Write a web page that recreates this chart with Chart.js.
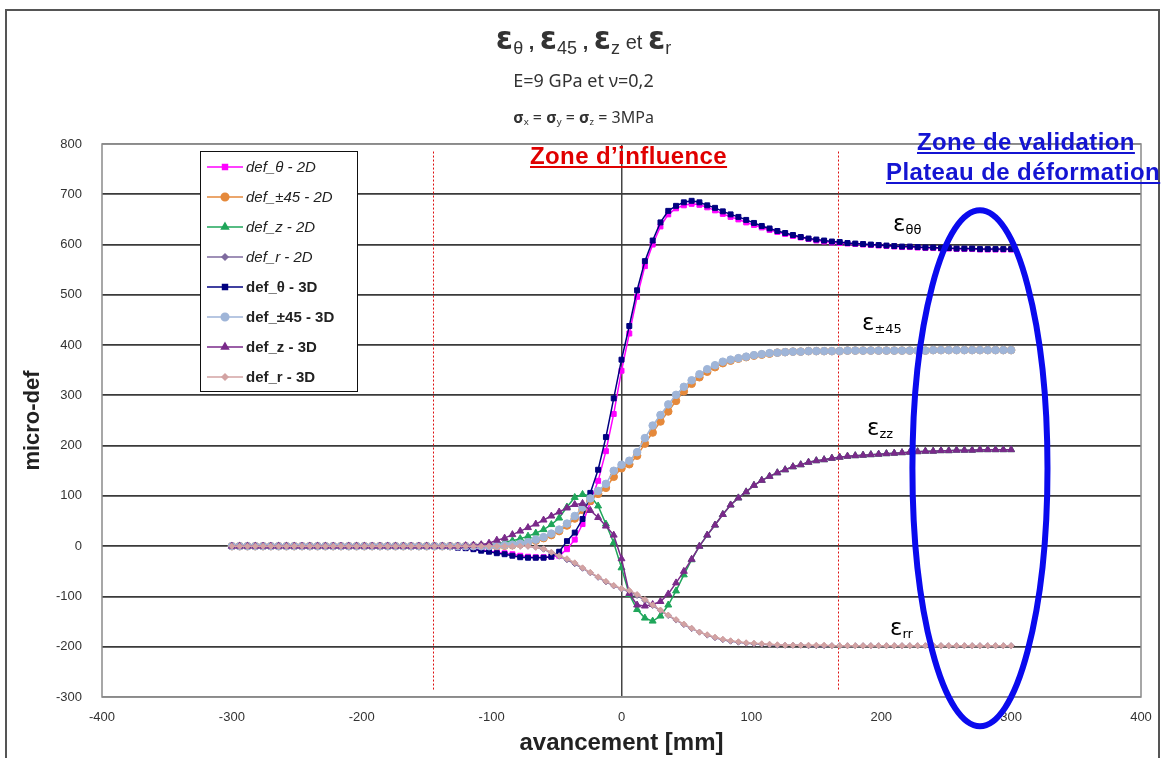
<!DOCTYPE html>
<html>
<head>
<meta charset="utf-8">
<script src="https://cdn.jsdelivr.net/npm/chart.js@4.4.1/dist/chart.umd.min.js"></script>
<style>
  html, body { margin: 0; padding: 0; background: #fff; }
  #wrap { position: relative; width: 1167px; height: 758px; overflow: hidden; }
  #cadre { position: absolute; left: 5px; top: 9px; width: 1155px; height: 770px; border: 2px solid #555; box-sizing: border-box; }
  canvas { position: absolute; left: 0; top: 0; }
  .txt { position: absolute; white-space: nowrap; font-family: "Liberation Sans", Arial, sans-serif; }
  .titre { left: 0; width: 1167px; text-align: center; color: #333; }
  .eps { font-family: "DejaVu Sans", sans-serif; }
  sub { font-size: 0.6em; vertical-align: -0.25em; }
  .zone { font-weight: bold; text-decoration: underline; font-size: 24px; letter-spacing: 0.4px; }
</style>
</head>
<body>
<div id="wrap">
  <canvas id="grafico" width="1167" height="758"></canvas>
  <div id="cadre"></div>

  <div class="txt titre" style="top:19px;font-size:20px;line-height:38px;">
    <span class="eps" style="font-size:31px;font-weight:bold">ε</span><sub style="font-size:18px">θ</sub> <b>,</b>
    <span class="eps" style="font-size:31px;font-weight:bold">ε</span><sub style="font-size:18px">45</sub> <b>,</b>
    <span class="eps" style="font-size:31px;font-weight:bold">ε</span><sub style="font-size:18px">z</sub> et
    <span class="eps" style="font-size:31px;font-weight:bold">ε</span><sub style="font-size:18px">r</sub>
  </div>
  <div class="txt titre" style="top:67px;font-size:18px;line-height:26px;font-family:'Noto Sans',sans-serif;">E=9 GPa et ν=0,2</div>
  <div class="txt titre" style="top:106px;font-size:16px;line-height:22px;font-family:'Noto Sans',sans-serif;">
    <b>σ</b><sub>x</sub> = <b>σ</b><sub>y</sub> = <b>σ</b><sub>z</sub> = 3MPa
  </div>

  <div class="txt zone" style="left:530px;top:142px;color:#e00000;">Zone d’influence</div>
  <div class="txt zone" style="left:917px;top:128px;color:#1414d2;">Zone de validation</div>
  <div class="txt zone" style="left:886px;top:158px;color:#1414d2;">Plateau de déformation</div>

  <div class="txt eps" style="left:893px;top:210px;font-size:23px;">ε<sub style="font-size:13px">θθ</sub></div>
  <div class="txt eps" style="left:862px;top:309px;font-size:23px;">ε<sub style="font-size:13px">±45</sub></div>
  <div class="txt eps" style="left:867px;top:414px;font-size:23px;">ε<sub style="font-size:13px">zz</sub></div>
  <div class="txt eps" style="left:890px;top:614px;font-size:23px;">ε<sub style="font-size:13px">rr</sub></div>
</div>

<script>
// avancement [mm]
const avancement = [
  -300, -294, -288, -282, -276, -270, -264, -258, -252, -246,
  -240, -234, -228, -222, -216, -210, -204, -198, -192, -186,
  -180, -174, -168, -162, -156, -150, -144, -138, -132, -126,
  -120, -114, -108, -102, -96, -90, -84, -78, -72, -66,
  -60, -54, -48, -42, -36, -30, -24, -18, -12, -6,
  0, 6, 12, 18, 24, 30, 36, 42, 48, 54,
  60, 66, 72, 78, 84, 90, 96, 102, 108, 114,
  120, 126, 132, 138, 144, 150, 156, 162, 168, 174,
  180, 186, 192, 198, 204, 210, 216, 222, 228, 234,
  240, 246, 252, 258, 264, 270, 276, 282, 288, 294,
  300
];

const defTheta2D = [
  0, 0, 0, 0, 0, 0, 0, 0, 0, 0,
  0, 0, 0, 0, 0, 0, 0, 0, 0, 0,
  0, 0, 0, 0, 0, 0, 0, 0, -1, -2,
  -3, -5, -7, -10, -12, -14, -16, -19, -21, -22,
  -22, -21, -19, -6, 13, 44, 88, 130, 189, 263,
  349, 423, 496, 557, 600, 636, 660, 672, 678, 681,
  679, 674, 668, 661, 655, 650, 644, 639, 634, 629,
  625, 621, 617, 614, 611, 608, 606, 604, 603, 602,
  601, 600, 599, 598, 597, 596, 595, 595, 594, 593,
  593, 592, 592, 591, 591, 591, 590, 590, 590, 590,
  590
];

const def45_2D = [
  0, 0, 0, 0, 0, 0, 0, 0, 0, 0,
  0, 0, 0, 0, 0, 0, 0, 0, 0, 0,
  0, 0, 0, 0, 0, 0, 0, 0, 0, 0,
  0, 0, 0, 0, 0, 1, 2, 4, 7, 11,
  16, 22, 30, 41, 55, 72, 90, 104, 116, 138,
  155, 163, 180, 204, 226, 248, 268, 289, 308, 323,
  336, 347, 356, 364, 369, 373, 376, 379, 381, 383,
  385, 386, 387, 387, 388, 388, 388, 388, 388, 389,
  389, 389, 389, 389, 389, 389, 389, 389, 389, 389,
  390, 390, 390, 390, 390, 390, 390, 390, 390, 390,
  390
];

const defZ2D = [
  0, 0, 0, 0, 0, 0, 0, 0, 0, 0,
  0, 0, 0, 0, 0, 0, 0, 0, 0, 0,
  0, 0, 0, 0, 0, 0, 0, 0, 0, 0,
  0, 1, 2, 3, 5, 8, 11, 15, 20, 26,
  33, 43, 56, 78, 97, 103, 100, 80, 44, 7,
  -43, -96, -126, -143, -149, -139, -117, -89, -57, -27,
  0, 22, 42, 63, 82, 96, 108, 121, 131, 139,
  146, 152, 158, 162, 167, 170, 172, 175, 177, 179,
  180, 181, 182, 183, 184, 185, 186, 187, 188, 189,
  189, 190, 190, 191, 191, 191, 192, 192, 192, 192,
  192
];

const defR2D = [
  0, 0, 0, 0, 0, 0, 0, 0, 0, 0,
  0, 0, 0, 0, 0, 0, 0, 0, 0, 0,
  0, 0, 0, 0, 0, 0, 0, 0, 0, 0,
  0, 0, 0, 0, 0, 0, 0, 0, 0, -2,
  -6, -13, -20, -27, -35, -44, -53, -62, -71, -79,
  -85, -90, -98, -108, -118, -128, -138, -147, -156, -164,
  -171, -177, -182, -186, -189, -191, -193, -194, -195, -196,
  -197, -197, -197, -197, -198, -198, -198, -198, -198, -198,
  -198, -198, -198, -198, -198, -198, -198, -198, -198, -198,
  -198, -198, -198, -198, -198, -198, -198, -198, -198, -198,
  -198
];

const defTheta3D = [
  0, 0, 0, 0, 0, 0, 0, 0, 0, 0,
  0, 0, 0, 0, 0, 0, 0, 0, 0, 0,
  0, 0, 0, 0, 0, 0, 0, 0, -1, -3,
  -4, -6, -9, -11, -14, -16, -19, -22, -23, -23,
  -23, -21, -11, 10, 27, 54, 106, 152, 217, 294,
  371, 438, 509, 567, 608, 644, 667, 677, 684, 687,
  684, 678, 673, 666, 660, 655, 649, 643, 637, 632,
  627, 623, 619, 615, 612, 610, 608, 606, 605, 603,
  602, 601, 600, 599, 598, 597, 596, 596, 595, 594,
  594, 593, 593, 592, 592, 592, 591, 591, 591, 591,
  591
];

const def45_3D = [
  0, 0, 0, 0, 0, 0, 0, 0, 0, 0,
  0, 0, 0, 0, 0, 0, 0, 0, 0, 0,
  0, 0, 0, 0, 0, 0, 0, 0, 0, 0,
  0, 0, 0, 0, 1, 2, 3, 5, 8, 13,
  18, 25, 33, 45, 60, 77, 95, 110, 124, 150,
  162, 170, 187, 215, 240, 261, 282, 301, 317, 330,
  342, 352, 360, 367, 371, 374, 377, 380, 382, 384,
  385, 386, 387, 387, 388, 388, 388, 388, 388, 389,
  389, 389, 389, 389, 389, 389, 389, 389, 389, 389,
  390, 390, 390, 390, 390, 390, 390, 390, 390, 390,
  390
];

const defZ3D = [
  0, 0, 0, 0, 0, 0, 0, 0, 0, 0,
  0, 0, 0, 0, 0, 0, 0, 0, 0, 0,
  0, 0, 0, 0, 0, 0, 0, 0, 0, 0,
  1, 2, 3, 6, 12, 16, 23, 30, 37, 44,
  52, 60, 68, 76, 83, 85, 71, 57, 40, 22,
  -25, -94, -117, -119, -116, -110, -95, -73, -50, -26,
  0, 22, 42, 63, 82, 96, 108, 121, 131, 139,
  146, 152, 158, 162, 167, 170, 172, 175, 177, 179,
  180, 181, 182, 183, 184, 185, 186, 187, 188, 189,
  189, 190, 190, 191, 191, 191, 192, 192, 192, 192,
  192
];

const defR3D = [
  0, 0, 0, 0, 0, 0, 0, 0, 0, 0,
  0, 0, 0, 0, 0, 0, 0, 0, 0, 0,
  0, 0, 0, 0, 0, 0, 0, 0, 0, 0,
  0, 0, 0, 0, 0, 0, 0, 0, 0, -2,
  -5, -12, -19, -25, -33, -43, -52, -61, -70, -78,
  -84, -88, -96, -106, -117, -127, -137, -146, -155, -163,
  -171, -176, -181, -185, -188, -190, -192, -193, -194, -195,
  -196, -197, -197, -197, -197, -197, -197, -198, -198, -198,
  -198, -198, -198, -198, -198, -198, -198, -198, -198, -198,
  -198, -198, -198, -198, -198, -198, -198, -198, -198, -198,
  -198
];

// axes
const ticksX = [-400, -300, -200, -100, 0, 100, 200, 300, 400];
const ticksY = [-300, -200, -100, 0, 100, 200, 300, 400, 500, 600, 700, 800];

// zones : limites de la zone d'influence, ellipse de validation
const limitesInfluence = [-145, 167];
const ellipseValidation = { cx: 276, cy: 155, rx: 52, ry: 513 };

const series = [
  { nom: "def_θ - 2D",   ys: defTheta2D, cor: "#ff00ff", marca: "rect",     raio: 3.5, italico: true },
  { nom: "def_±45 - 2D", ys: def45_2D,   cor: "#e5893b", marca: "circle",   raio: 3.8, italico: true },
  { nom: "def_z - 2D",   ys: defZ2D,     cor: "#1fa65a", marca: "triangle", raio: 4,   italico: true },
  { nom: "def_r - 2D",   ys: defR2D,     cor: "#7f6b9f", marca: "rectRot",  raio: 3,   italico: true },
  { nom: "def_θ - 3D",   ys: defTheta3D, cor: "#000080", marca: "rect",     raio: 3.5, italico: false },
  { nom: "def_±45 - 3D", ys: def45_3D,   cor: "#9fb5d8", marca: "circle",   raio: 3.8, italico: false },
  { nom: "def_z - 3D",   ys: defZ3D,     cor: "#7a2a8a", marca: "triangle", raio: 4,   italico: false },
  { nom: "def_r - 3D",   ys: defR3D,     cor: "#d3a3a3", marca: "rectRot",  raio: 3,   italico: false }
];

const datasets = series.map((s, i) => ({
  label: s.nom,
  data: avancement.map((x, k) => ({ x: x, y: s.ys[k] })),
  showLine: true,
  borderColor: s.cor,
  backgroundColor: s.cor,
  pointBackgroundColor: s.cor,
  pointBorderColor: s.cor,
  pointBorderWidth: 1,
  pointStyle: s.marca,
  pointRadius: s.raio,
  borderWidth: 1.5,
  order: series.length - i
}));

const decor = {
  id: "decor",
  beforeDatasetsDraw(chart) {
    const { ctx, scales } = chart;
    ctx.save();
    ctx.strokeStyle = "#dd1010";
    ctx.lineWidth = 1;
    ctx.setLineDash([2, 2]);
    limitesInfluence.forEach(v => {
      const px = Math.round(scales.x.getPixelForValue(v)) + 0.5;
      ctx.beginPath();
      ctx.moveTo(px, scales.y.getPixelForValue(785));
      ctx.lineTo(px, scales.y.getPixelForValue(-287));
      ctx.stroke();
    });
    ctx.restore();
  },
  afterDraw(chart) {
    const { ctx, chartArea: a, scales } = chart;
    ctx.save();
    // cadre de la zone de tracé
    ctx.strokeStyle = "#8a8a8a";
    ctx.lineWidth = 1.5;
    ctx.strokeRect(a.left, a.top, a.right - a.left, a.bottom - a.top);

    // ellipse bleue
    const e = ellipseValidation;
    const cx = scales.x.getPixelForValue(e.cx);
    const cy = scales.y.getPixelForValue(e.cy);
    const rx = scales.x.getPixelForValue(e.cx + e.rx) - cx;
    const ry = cy - scales.y.getPixelForValue(e.cy + e.ry);
    ctx.strokeStyle = "#0a0aee";
    ctx.lineWidth = 6;
    ctx.beginPath();
    ctx.ellipse(cx, cy, rx, ry, 0, 0, Math.PI * 2);
    ctx.stroke();

    // légende
    const lx = 200, ly = 151, lw = 157, lh = 240;
    ctx.fillStyle = "#fff";
    ctx.fillRect(lx, ly, lw, lh);
    ctx.strokeStyle = "#111";
    ctx.lineWidth = 1;
    ctx.strokeRect(lx + 0.5, ly + 0.5, lw, lh);
    series.forEach((s, i) => {
      const y = 167 + i * 30;
      ctx.strokeStyle = s.cor;
      ctx.lineWidth = 1.5;
      ctx.beginPath();
      ctx.moveTo(207, y);
      ctx.lineTo(243, y);
      ctx.stroke();
      ctx.fillStyle = s.cor;
      Chart.helpers.drawPoint(ctx, { pointStyle: s.marca, radius: s.raio, rotation: 0, borderWidth: 1 }, 225, y);
      ctx.fillStyle = "#222";
      ctx.font = (s.italico ? "italic " : "bold ") + "15px 'Liberation Sans', Arial, sans-serif";
      ctx.textAlign = "left";
      ctx.textBaseline = "middle";
      ctx.fillText(s.nom, 246, y + 1);
    });
    ctx.restore();
  }
};

new Chart(document.getElementById("grafico"), {
  type: "scatter",
  data: { datasets },
  options: {
    responsive: false,
    animation: false,
    devicePixelRatio: 1,
    layout: { padding: { top: 144, right: 26, left: 0, bottom: 0 } },
    plugins: { legend: { display: false }, tooltip: { enabled: false } },
    scales: {
      x: {
        type: "linear",
        min: ticksX[0],
        max: ticksX[ticksX.length - 1],
        afterBuildTicks: s => { s.ticks = ticksX.map(v => ({ value: v })); },
        afterFit: s => { s.height = 61; },
        ticks: { padding: 13, color: "#333", font: { size: 13, family: "'Liberation Sans Narrow', 'Liberation Sans', Arial" } },
        grid: {
          drawTicks: false,
          lineWidth: 1.5,
          color: c => (c.tick && c.tick.value === 0 ? "#444" : "rgba(0,0,0,0)")
        },
        border: { display: false },
        title: {
          display: true,
          text: "avancement [mm]",
          color: "#222",
          font: { size: 24, weight: "bold", family: "'Liberation Sans', Arial" },
          padding: { top: 0, bottom: 0 }
        }
      },
      y: {
        min: ticksY[0],
        max: ticksY[ticksY.length - 1],
        afterBuildTicks: s => { s.ticks = ticksY.map(v => ({ value: v })); },
        afterFit: s => { s.width = 102; },
        ticks: { padding: 20, color: "#333", font: { size: 13, family: "'Liberation Sans', Arial" } },
        grid: {
          drawTicks: false,
          lineWidth: 1.8,
          color: c => (c.tick && (c.tick.value === 800 || c.tick.value === -300) ? "#8a8a8a" : "#3a3a3a")
        },
        border: { display: false },
        title: {
          display: true,
          text: "micro-def",
          color: "#222",
          font: { size: 22, weight: "bold", family: "'Liberation Sans', Arial" },
          padding: { top: 20, bottom: 0 }
        }
      }
    }
  },
  plugins: [decor]
});
</script>
</body>
</html>
